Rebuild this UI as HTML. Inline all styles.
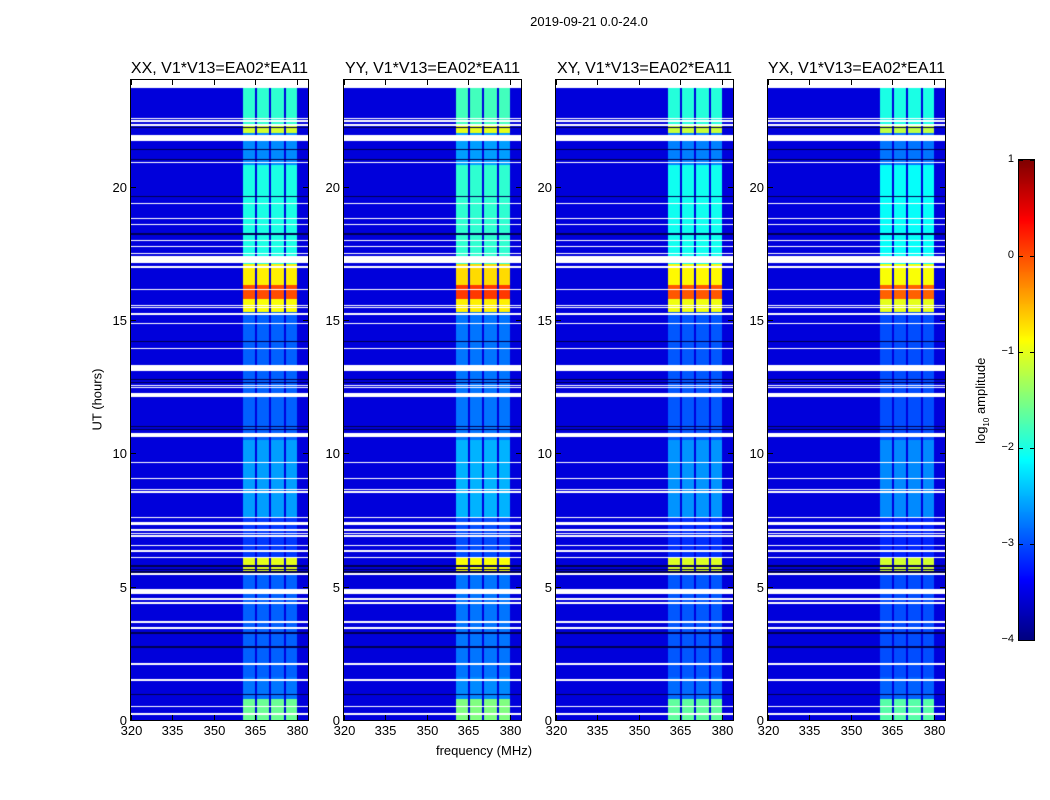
<!DOCTYPE html>
<html><head><meta charset="utf-8">
<style>
body{margin:0;background:#fff;}
#root{position:relative;width:1050px;height:800px;background:#fff;font-family:"Liberation Sans",sans-serif;color:#000;overflow:hidden;}
.t{position:absolute;white-space:nowrap;font-size:13px;}
canvas{position:absolute;}
</style></head><body>
<div id="root">
<div class="t" style="left:0;width:1178px;top:14px;text-align:center;">2019-09-21 0.0-24.0</div>
<svg id="axes" width="1050" height="800" style="position:absolute;left:0;top:0;z-index:5"></svg>
</div>
<script>
// ---- data ----
const panelNames = ["XX, V1*V13=EA02*EA11","YY, V1*V13=EA02*EA11","XY, V1*V13=EA02*EA11","YX, V1*V13=EA02*EA11"];
const panelOffset = [0, 0.1, -0.05, -0.1];
const segStart = [0, 0.8, 1.6, 5.5, 6.1, 7.6, 10.5, 15.3, 15.8, 16.3, 17.1, 20.8, 22.0, 22.3];
const segEnd   = [0.8, 1.6, 5.5, 6.1, 7.6, 10.5, 15.3, 15.8, 16.3, 17.1, 20.8, 22.0, 22.3, 23.7];
const bandLevel= [-1.6, -2.8, -2.9, -1.0, -3.1, -2.6, -2.9, -0.9, 0.0, -0.8, -2.0, -2.7, -1.1, -1.9];
const backgroundLevel = -3.55;
const subbandLo = [360.5, 365.5, 370.5, 376.0];
const subbandHi = [365.0, 370.0, 375.5, 380.2];
const whiteStart = [0.2,0.48,1.45,2.08,3.43,3.65,4.36,4.51,4.72,5.45,6.08,6.31,6.53,6.88,6.98,7.1,7.3,7.58,8.52,8.63,9.04,9.64,10.6,12.1,12.45,12.53,13.07,13.91,14.85,15.2,15.45,15.52,16.12,16.96,17.15,17.48,17.73,17.96,18.55,18.78,19.34,20.88,21.72,22.28,22.44,22.53,23.7];
const whiteEnd   = [0.25,0.53,1.55,2.13,3.48,3.7,4.41,4.56,4.9,5.5,6.13,6.36,6.58,6.93,7.03,7.15,7.42,7.63,8.57,8.68,9.09,9.69,10.75,12.28,12.5,12.58,13.3,13.96,14.9,15.28,15.5,15.57,16.17,17.01,17.4,17.53,17.78,18.01,18.6,18.83,19.39,20.93,21.95,22.36,22.49,22.58,24.0];
const darkStart = [0.92,2.71,3.24,5.52,5.62,5.75,10.88,10.98,12.62,12.75,14.17,18.2,19.6,21.0,21.38,22.2];
const darkEnd   = [0.98,2.77,3.3,5.57,5.67,5.8,10.93,11.03,12.67,12.8,14.22,18.25,19.65,21.05,21.43,22.25];
const xTicks = [320,335,350,365,380];
const yTicks = [0,5,10,15,20];
const cbTicks = [1,0,-1,-2,-3,-4];
const cbTickLabels = ["1","0","\u22121","\u22122","\u22123","\u22124"];

// ---- geometry ----
const panelLeft=[131,344,556,768], PW=177, PT=80, PB=720;
const fMin=320, fMax=384, hMin=0, hMax=24;
const xS=(f,i)=>panelLeft[i]+(f-fMin)/(fMax-fMin)*PW;
const yS=h=>PB-(h-hMin)/(hMax-hMin)*(PB-PT);
const vMin=-4, vMax=1;
function jet(v){let t=(v-vMin)/(vMax-vMin);t=Math.max(0,Math.min(1,t));
 const r=Math.max(0,Math.min(1,1.5-Math.abs(4*t-3))),g=Math.max(0,Math.min(1,1.5-Math.abs(4*t-2))),b=Math.max(0,Math.min(1,1.5-Math.abs(4*t-1)));
 return [Math.round(r*255),Math.round(g*255),Math.round(b*255)];}
function inAny(h,s,e){for(let k=0;k<s.length;k++)if(h>=s[k]&&h<e[k])return true;return false;}
function level(h){for(let k=0;k<segStart.length;k++)if(h>=segStart[k]&&h<segEnd[k])return bandLevel[k];return backgroundLevel;}

const root=document.getElementById('root');
const svg=document.getElementById('axes');
const NS='http://www.w3.org/2000/svg';
function line(x1,y1,x2,y2,name){const l=document.createElementNS(NS,'line');l.setAttribute('x1',x1);l.setAttribute('y1',y1);l.setAttribute('x2',x2);l.setAttribute('y2',y2);l.setAttribute('stroke','#000');l.setAttribute('stroke-width','1');
 
 
 svg.appendChild(l);}
function text(x,y,s,anchor,name,size){const d=document.createElement('div');d.className='t';d.textContent=s;d.style.top=(y-8)+'px';d.style.fontSize=(size||13)+'px';
 if(anchor==='c'){d.style.left=(x-100)+'px';d.style.width='200px';d.style.textAlign='center';}
 else if(anchor==='r'){d.style.left=(x-100)+'px';d.style.width='100px';d.style.textAlign='right';}
 else d.style.left=x+'px';
 
 
 root.appendChild(d);return d;}

for(let i=0;i<4;i++){
 const c=document.createElement('canvas');c.width=PW;c.height=PB-PT;c.style.left=panelLeft[i]+'px';c.style.top=PT+'px';
 
 
 root.appendChild(c);
 const ctx=c.getContext('2d');const img=ctx.createImageData(PW,PB-PT);
 for(let py=0;py<PB-PT;py++){
  const h=hMax-(py+0.5)/(PB-PT)*(hMax-hMin);
  const white=inAny(h,whiteStart,whiteEnd), dark=inAny(h,darkStart,darkEnd);
  const bl=level(h)+panelOffset[i];
  for(let px=0;px<PW;px++){
   const f=fMin+(px+0.5)/PW*(fMax-fMin);
   let col;
   if(white)col=[255,255,255];
   else if(dark)col=[0,0,80];
   else{let v=backgroundLevel;for(let k=0;k<subbandLo.length;k++)if(f>=subbandLo[k]&&f<subbandHi[k])v=Math.max(v,bl);col=jet(v);}
   const o=(py*PW+px)*4;img.data[o]=col[0];img.data[o+1]=col[1];img.data[o+2]=col[2];img.data[o+3]=255;}
 }
 ctx.putImageData(img,0,0);
 const r=document.createElementNS(NS,'rect');r.setAttribute('x',panelLeft[i]-0.5);r.setAttribute('y',PT-0.5);r.setAttribute('width',PW+1);r.setAttribute('height',PB-PT+1);r.setAttribute('fill','none');r.setAttribute('stroke','#000');
 
 
 svg.appendChild(r);
 text(panelLeft[i]+PW/2,68,panelNames[i],'c','panel-title',16);
 xTicks.forEach(f=>{const x=Math.round(xS(f,i))+0.5;line(x,PB,x,PB-5,'x-tick');line(x,PT,x,PT+5,'x-tick');text(x,731,String(f),'c','x-tick-label');});
 yTicks.forEach(hv=>{const y=Math.round(yS(hv))+0.5;line(panelLeft[i],y,panelLeft[i]+5,y,'y-tick');line(panelLeft[i]+PW,y,panelLeft[i]+PW-5,y,'y-tick');text(panelLeft[i]-4,y,String(hv),'r','y-tick-label');});
}
text(484,751,'frequency (MHz)','c','x-axis-title');
const yl=text(97,400,'UT (hours)','c','y-axis-title');yl.style.transform='rotate(-90deg)';
// colorbar
const cbL=1019,cbW=15,cbT=160,cbB=640;
const cb=document.createElement('canvas');cb.width=cbW;cb.height=cbB-cbT;cb.style.left=cbL+'px';cb.style.top=cbT+'px';


root.appendChild(cb);
const cc=cb.getContext('2d');
for(let py=0;py<cbB-cbT;py++){const v=vMax-(py+0.5)/(cbB-cbT)*(vMax-vMin);const c=jet(v);cc.fillStyle=`rgb(${c[0]},${c[1]},${c[2]})`;cc.fillRect(0,py,cbW,1);}
const cr=document.createElementNS(NS,'rect');cr.setAttribute('x',cbL-0.5);cr.setAttribute('y',cbT-0.5);cr.setAttribute('width',cbW+1);cr.setAttribute('height',cbB-cbT+1);cr.setAttribute('fill','none');cr.setAttribute('stroke','#000');


svg.appendChild(cr);
cbTicks.forEach((v,k)=>{const y=Math.round(cbT+(vMax-v)/(vMax-vMin)*(cbB-cbT))+0.5;line(cbL,y,cbL+4,y,'colorbar-tick');line(cbL+cbW,y,cbL+cbW-4,y,'colorbar-tick');text(1014,y,cbTickLabels[k],'r','colorbar-tick-label',11);});
const cl=document.createElement('div');cl.className='t';cl.innerHTML='log<sub style="font-size:8px">10</sub> amplitude';
cl.style.left='932px';cl.style.top='392px';cl.style.width='100px';cl.style.textAlign='center';cl.style.transform='rotate(-90deg)';


root.appendChild(cl);
</script>
</body></html>
